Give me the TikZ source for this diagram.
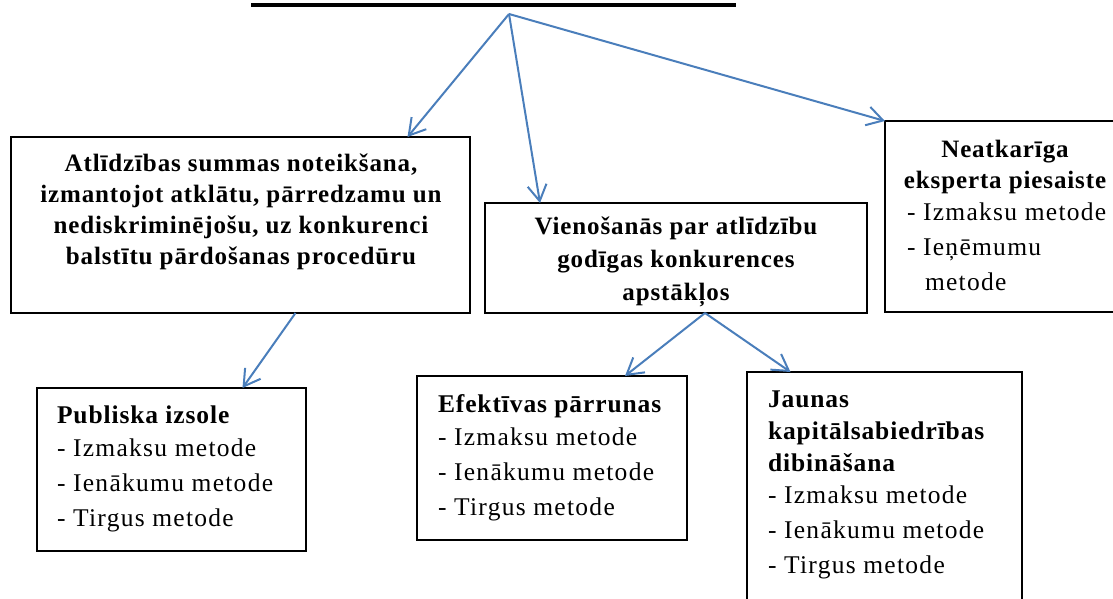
\documentclass[tikz,border=0pt]{standalone}
\usepackage{fontspec}
\setmainfont{Liberation Serif}[LetterSpace=5.0, BoldFeatures={LetterSpace=3.5}]
\usepackage{tikz}
\usetikzlibrary{arrows.meta}
\definecolor{wordBlue}{RGB}{74,126,187}

\begin{document}
\begin{tikzpicture}[x=1pt, y=-1pt]%
  \tikzset{normal arrow/.style={draw,->,>={Straight Barb[length=16pt,width=19pt]},line width=2pt,wordBlue}}
  \tikzset{box/.style={draw=black, line width=1.8pt, rectangle, anchor=north west}}
  \tikzset{bold text/.style={font=\fontsize{25}{31}\selectfont\bfseries}}
  \tikzstyle{every node}=[text=black, inner sep=0pt, outer sep=0pt, font=\fontsize{25.5}{35}\selectfont]
  \useasboundingbox (0,0) rectangle (1113,598);

  % rule under the (cut off) heading
  \draw[line width=4pt] (251,5.3) -- (736,5.3);
  \coordinate (TOP) at (509,14);

  % boxes
  \node[box, minimum width=459pt, minimum height=176pt] at (11,137) (ATL) {};
  \node[box, minimum width=382pt, minimum height=110pt] at (485,203) (VIEN) {};
  \node[box, minimum width=240pt, minimum height=191pt] at (885,121) (NEAT) {};
  \node[box, minimum width=269pt, minimum height=163pt] at (37,388) (PUB) {};
  \node[box, minimum width=270pt, minimum height=164pt] at (417,376) (EFEK) {};
  \node[box, minimum width=275pt, minimum height=240pt] at (747,372) (JAUN) {};

  % texts
  \node[bold text, align=center, anchor=north] at (241,154) (ATLt)
    {Atlīdzības summas noteikšana,\\ izmantojot atklātu, pārredzamu un\\ nediskriminējošu, uz konkurenci\\ balstītu pārdošanas procedūru};
  \node[bold text, font=\fontsize{25}{33}\selectfont\bfseries, align=center, anchor=north] at (676,217) (VIENt)
    {Vienošanās par atlīdzību\\ godīgas konkurences\\ apstākļos};
  \node[bold text, align=center, anchor=north] at (1005,140) (NEATt)
    {Neatkarīga\\ eksperta piesaiste};
  \node[align=left, anchor=north west] at (907,203) (NEATl)
    {- Izmaksu metode\\ - Ieņēmumu\\ \hspace*{18pt}metode};
  \node[align=left, anchor=north west] at (57,406) (PUBt)
    {\textbf{Publiska izsole}\\[-2pt] - Izmaksu metode\\ - Ienākumu metode\\ - Tirgus metode};
  \node[align=left, anchor=north west] at (438,395) (EFEKt)
    {\textbf{Efektīvas pārrunas}\\[-2pt] - Izmaksu metode\\ - Ienākumu metode\\ - Tirgus metode};
  \node[align=left, anchor=north west] at (768,390.5) (JAUNt)
    {\textbf{Jaunas}\\[-3pt] \textbf{kapitālsabiedrības}\\[-3pt] \textbf{dibināšana}\\[-3pt] - Izmaksu metode\\ - Ienākumu metode\\ - Tirgus metode};

  % arrows
  \draw[normal arrow] (TOP) -- ([xshift=167pt]ATL.north);
  \draw[normal arrow] (TOP) -- ([xshift=-136pt]VIEN.north);
  \draw[normal arrow] (TOP) -- (NEAT.north west);
  \draw[normal arrow] ([xshift=55pt]ATL.south) -- ([xshift=71pt]PUB.north);
  \draw[normal arrow] ([xshift=29pt]VIEN.south) -- ([xshift=73pt]EFEK.north);
  \draw[normal arrow] ([xshift=29pt]VIEN.south) -- ([xshift=-94pt]JAUN.north);
\end{tikzpicture}
\end{document}
